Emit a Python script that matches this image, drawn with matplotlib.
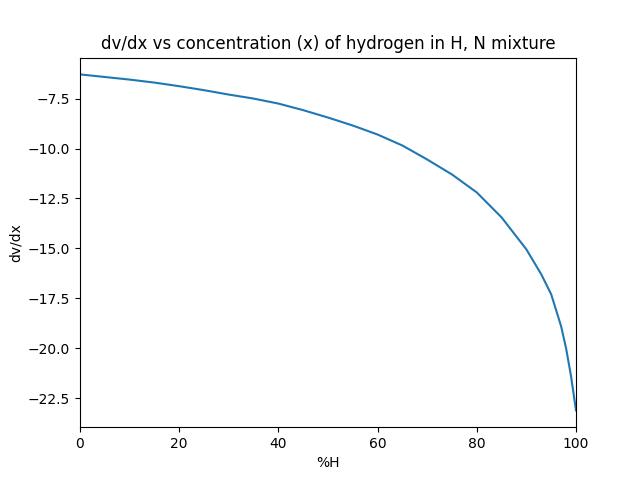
import matplotlib
matplotlib.use("Agg")
import matplotlib.pyplot as plt

pct_h = [0, 5, 10, 15, 20, 25, 30, 35, 40, 45, 50, 55, 60, 65, 70, 75, 80, 85, 90, 93, 95, 97, 98, 99, 100]
dvdx = [-6.29, -6.42, -6.55, -6.7, -6.88, -7.08, -7.3, -7.5, -7.75, -8.08, -8.45, -8.85, -9.3, -9.85, -10.55, -11.3, -12.2, -13.45, -15.05, -16.3, -17.3, -18.9, -20.0, -21.4, -23.11]

fig, ax = plt.subplots(figsize=(6.4, 4.8), dpi=100)
ax.plot(pct_h, dvdx)
ax.set_xlim(0, 100)
ax.set_xlabel("%H")
ax.set_ylabel("dv/dx")
ax.set_title("dv/dx vs concentration (x) of hydrogen in H, N mixture")
fig.savefig("out.png")
